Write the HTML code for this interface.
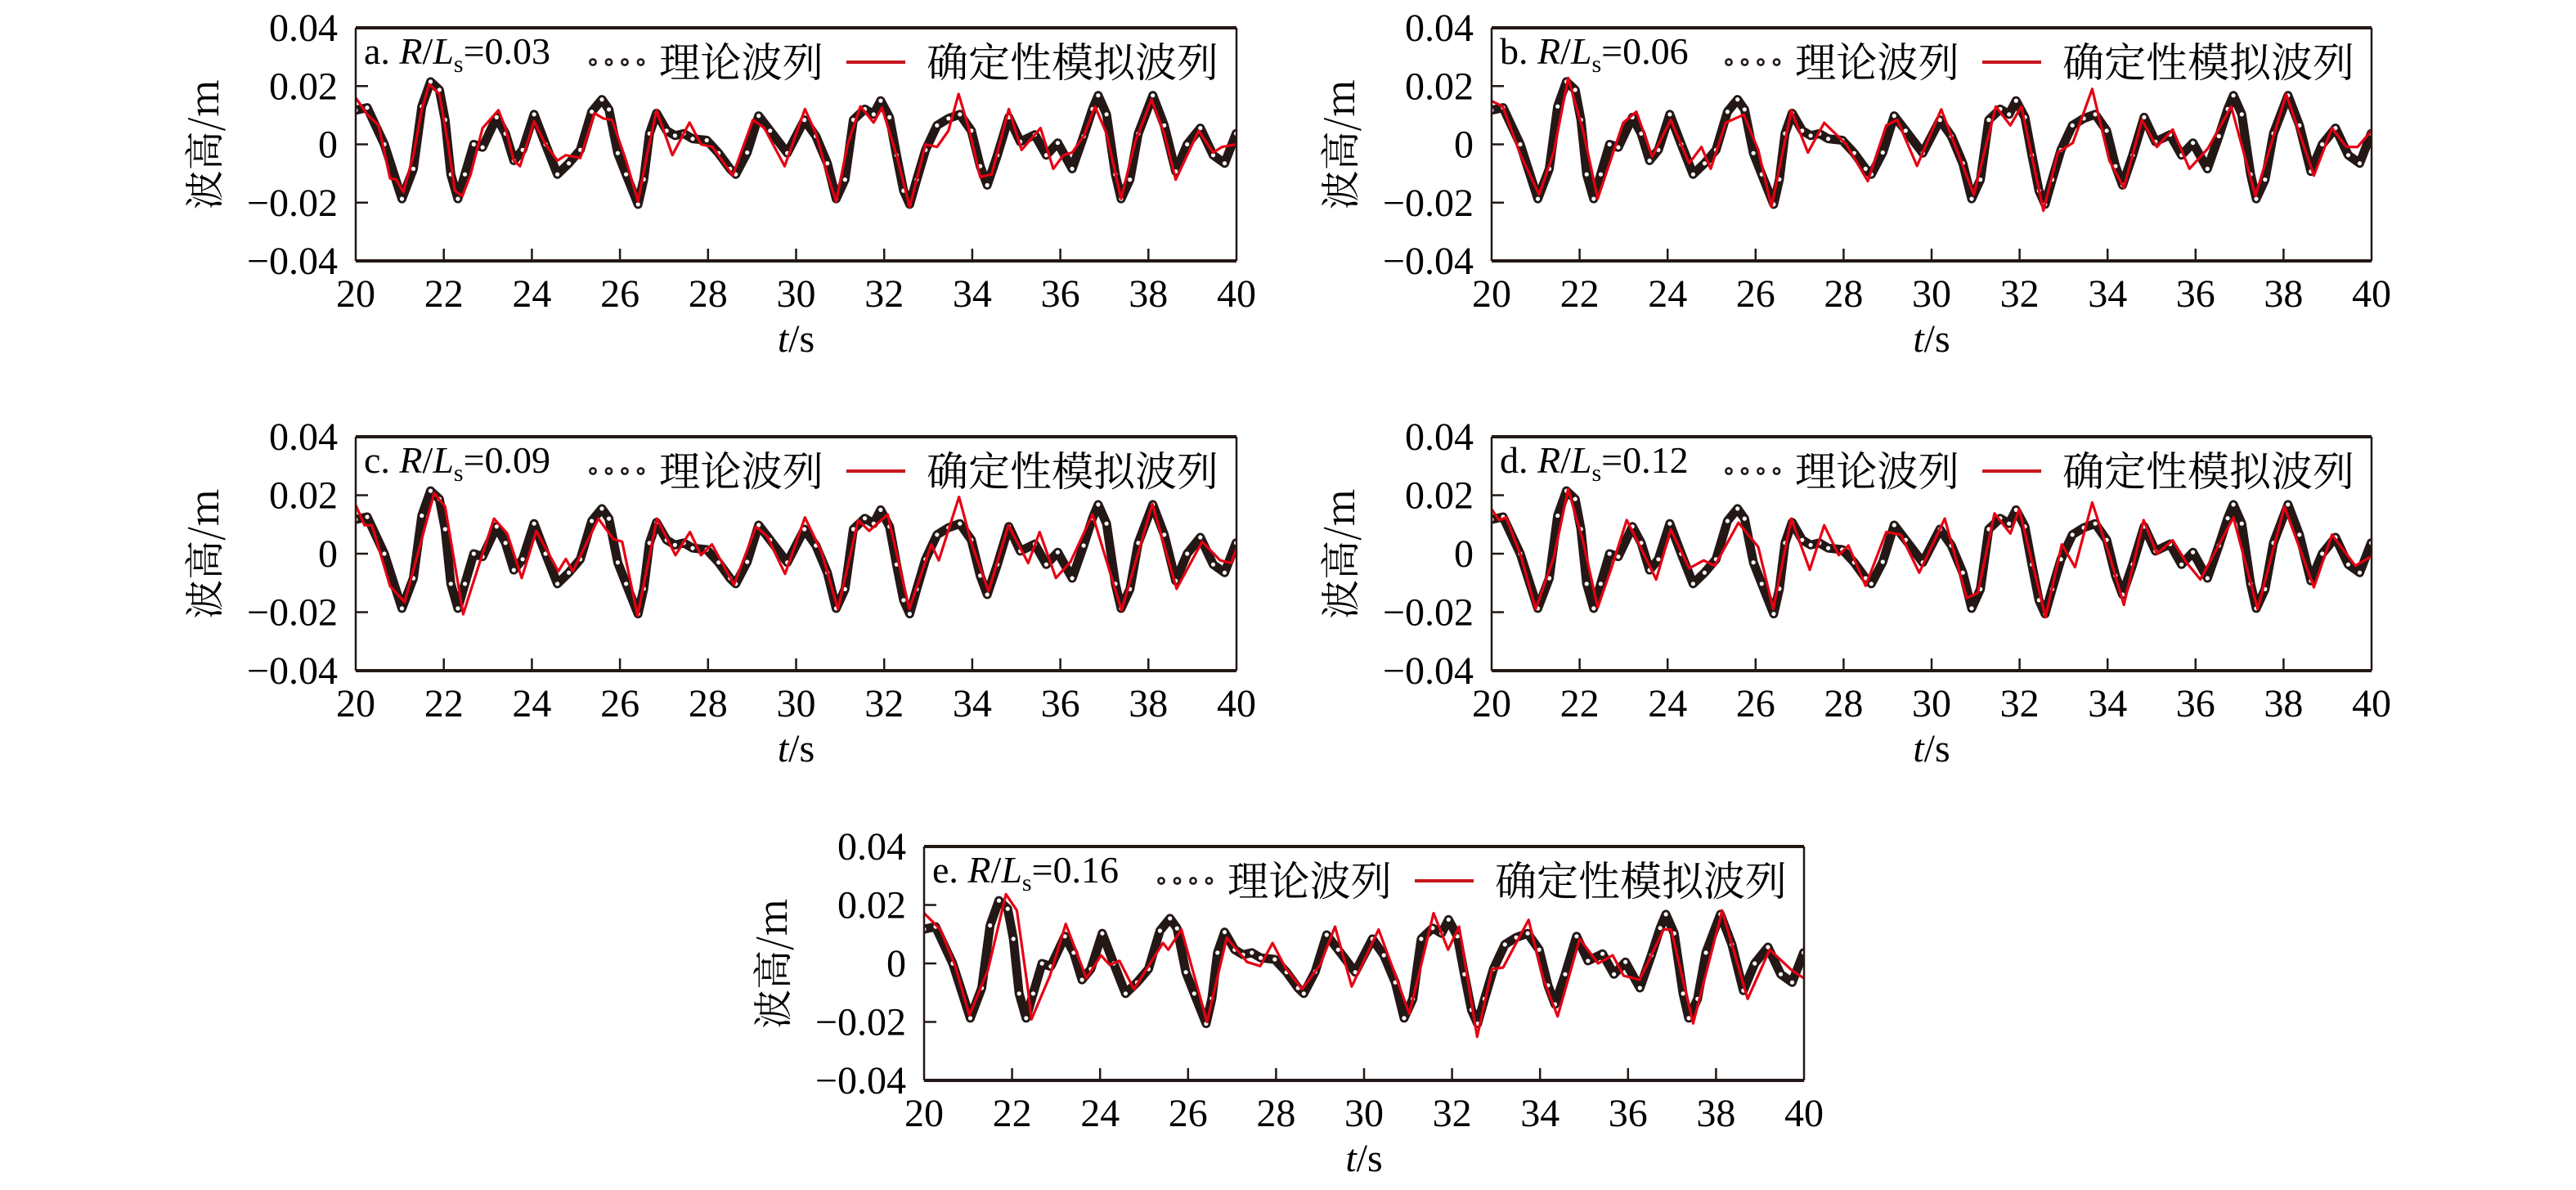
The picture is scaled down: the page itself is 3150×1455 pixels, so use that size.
<!DOCTYPE html>
<html><head><meta charset="utf-8"><style>
html,body{margin:0;padding:0;background:#fff;width:3150px;height:1455px;overflow:hidden}
svg text{font-family:"Liberation Serif","Noto Serif CJK SC",serif;fill:#000}
.cjk{font-family:"Noto Serif CJK SC","Liberation Serif",serif}
</style></head><body>
<svg id="fig" xmlns="http://www.w3.org/2000/svg" width="3150" height="1455" viewBox="0 0 3150 1455"></svg>
<script>
// ---- data ----
const xTicks = [20,22,24,26,28,30,32,34,36,38,40];
const yTicks = [0.04,0.02,0,-0.02,-0.04];
const yTickLabels = ["0.04","0.02","0","\u22120.02","\u22120.04"];
const panelLetters = ["a","b","c","d","e"];
const panelRatios = ["0.03","0.06","0.09","0.12","0.16"];

const theoryT = [20.0,20.26,20.65,21.05,21.31,21.5,21.7,21.9,22.03,22.16,22.32,22.48,22.68,22.88,23.2,23.4,23.59,23.79,24.05,24.31,24.58,24.84,25.1,25.36,25.59,25.75,25.95,26.14,26.41,26.54,26.67,26.83,27.06,27.25,27.45,27.65,27.97,28.24,28.5,28.63,28.89,29.15,29.41,29.8,30.19,30.45,30.71,30.91,31.11,31.3,31.56,31.76,31.92,32.12,32.28,32.44,32.58,32.74,32.94,33.2,33.46,33.72,33.98,34.18,34.34,34.57,34.83,35.09,35.42,35.68,35.94,36.27,36.53,36.73,36.86,37.05,37.25,37.38,37.58,37.77,38.1,38.36,38.62,38.88,39.18,39.47,39.73,39.99];
const theoryV = [0.0117,0.0126,0,-0.0187,-0.0084,0.013,0.0215,0.0187,0.0084,-0.0103,-0.0187,-0.0103,0,-0.001,0.0093,0.0037,-0.0056,-0.0019,0.0103,0,-0.0103,-0.0065,-0.0019,0.0112,0.0154,0.012,-0.003,-0.0103,-0.0206,-0.012,0.0037,0.0107,0.0047,0.003,0.0037,0.0019,0.0014,-0.003,-0.0084,-0.0103,-0.0028,0.0098,0.0047,-0.003,0.0084,0.0028,-0.0065,-0.0187,-0.0121,0.0084,0.0121,0.0103,0.015,0.0093,-0.0037,-0.0159,-0.0206,-0.0121,-0.0019,0.0065,0.0089,0.0103,0.0047,-0.0075,-0.014,-0.0037,0.0093,0.0009,0.0033,-0.0037,0.0005,-0.0084,0.0028,0.0121,0.0168,0.0103,-0.0103,-0.0187,-0.0121,0.0037,0.0168,0.0065,-0.0093,0,0.0056,-0.0037,-0.0065,0.0037];

const simAT = [20.0,20.26,20.52,20.78,20.92,21.08,21.31,21.5,21.67,21.9,22.09,22.25,22.42,22.61,22.88,23.24,23.4,23.59,23.73,24.05,24.31,24.58,24.77,25.1,25.42,25.62,25.82,26.14,26.41,26.6,26.83,27.19,27.58,27.84,28.1,28.56,29.02,29.28,29.74,30.2,30.45,30.71,30.91,31.17,31.46,31.76,31.95,32.28,32.58,32.94,33.2,33.46,33.69,33.92,34.18,34.44,34.83,35.12,35.55,35.84,36.07,36.27,36.53,36.79,37.05,37.38,37.7,38.07,38.36,38.62,39.14,39.47,39.67,39.99];
const simAV = [0.016,0.0103,0.0065,-0.0117,-0.0121,-0.0164,-0.0037,0.0121,0.0206,0.0173,0.0009,-0.0159,-0.0178,-0.0103,0.0056,0.0117,0.0056,-0.0056,-0.0075,0.0079,0,-0.0056,-0.0037,-0.0047,0.0107,0.0089,0.0084,-0.0056,-0.0196,-0.0047,0.0117,-0.0037,0.0075,0,-0.0009,-0.0107,0.0084,0.0056,-0.0075,0.0121,0.0037,-0.0103,-0.0196,0,0.013,0.0075,0.0126,-0.0037,-0.0215,0,-0.0009,0.0047,0.0173,0.0056,-0.0112,-0.0103,0.0121,-0.0019,0.0056,-0.0084,-0.0037,-0.0028,0.0028,0.013,0.0037,-0.0187,0.0009,0.0154,0.0037,-0.0121,0.0047,-0.0028,-0.0009,0];

const simBT = [20.0,20.25,20.66,21.08,21.41,21.74,22.08,22.41,22.99,23.29,23.65,24.07,24.49,24.77,24.98,25.32,25.73,26.06,26.36,26.81,27.19,27.56,28.06,28.55,28.97,29.22,29.67,30.22,30.96,31.46,31.79,32.04,32.54,32.87,33.21,33.65,34.04,34.37,34.78,35.12,35.48,35.86,36.28,36.81,37.36,38.06,38.69,39.1,39.43,39.68,40.0];
const simBV = [0.0149,0.013,-0.0037,-0.0172,-0.0028,0.0228,0.0047,-0.0186,0.0074,0.0112,-0.0042,0.0084,-0.0065,-0.0009,-0.0084,0.0074,0.0102,-0.0019,-0.0214,0.0116,-0.0028,0.0074,0,-0.0126,0.0065,0.0084,-0.0074,0.012,-0.0172,0.013,0.0065,0.013,-0.0228,-0.0028,0.0005,0.019,-0.0056,-0.0149,0.0084,-0.0009,0.0051,-0.0084,-0.0014,0.013,-0.0177,0.0172,-0.0107,0.0056,-0.0009,-0.0009,0.0047];

const simCT = [20.0,20.2,20.37,20.78,21.11,21.78,22.03,22.44,22.77,23.14,23.44,23.77,24.1,24.6,24.77,24.93,25.51,25.85,26.05,26.4,26.84,27.26,27.59,27.84,28.09,28.59,29.09,29.34,29.75,30.2,30.58,30.95,31.41,31.66,32.08,32.57,33.07,33.24,33.7,33.99,34.37,34.82,35.27,35.53,35.9,36.23,36.73,37.39,38.09,38.64,39.22,39.63,39.88,40.0];
const simCV = [0.0166,0.0097,0.0097,-0.0111,-0.0166,0.0207,0.0161,-0.0207,-0.0051,0.012,0.0069,-0.0083,0.0078,-0.006,-0.0018,-0.006,0.012,0.005,0.0041,-0.0212,0.012,-0.0005,0.0074,-0.0005,0.0032,-0.0106,0.0092,0.006,-0.0069,0.0124,0.0005,-0.0189,0.0115,0.0078,0.0134,-0.0189,0.0032,-0.0023,0.0194,0.0032,-0.0129,0.0097,-0.0032,0.0074,-0.0083,-0.0028,0.0134,-0.0194,0.017,-0.012,0.0041,-0.0023,-0.0032,0.0018];

const simDT = [20.0,20.17,20.33,20.66,21.0,21.41,21.74,22.08,22.41,22.74,23.07,23.41,23.74,24.07,24.49,24.82,25.07,25.61,26.06,26.4,26.81,27.23,27.56,27.89,28.11,28.5,28.97,29.3,29.72,30.3,30.8,31.05,31.43,31.79,31.99,32.59,32.96,33.26,33.65,34.04,34.37,34.82,35.12,35.48,35.78,36.11,36.86,37.41,38.02,38.69,39.1,39.63,40.0];
const simDV = [0.0152,0.0115,0.0124,-0.0005,-0.0189,-0.0014,0.0221,0.0041,-0.0184,-0.0041,0.0115,0.0014,-0.0088,0.0083,-0.005,-0.0023,-0.0041,0.0106,0.0023,-0.0189,0.012,-0.0055,0.0097,-0.0005,0.0028,-0.011,0.0074,0.0065,-0.0065,0.012,-0.0152,-0.0134,0.0138,0.0069,0.0152,-0.0217,0.0032,-0.0046,0.0175,-0.0005,-0.0175,0.0115,0,0.0046,-0.0028,-0.0088,0.0124,-0.0189,0.0161,-0.0115,0.0065,-0.0041,-0.0009];

const simET = [20.0,20.37,20.7,21.03,21.45,21.86,22.11,22.36,22.44,22.86,23.22,23.69,24.02,24.22,24.44,24.77,25.43,25.55,25.85,26.43,26.88,27.34,27.64,27.92,28.21,28.59,29.0,29.34,29.72,30.33,31.03,31.58,31.91,32.16,32.57,32.91,33.16,33.74,34.07,34.4,34.9,35.32,35.65,35.9,36.26,36.81,36.98,37.48,38.14,38.72,39.22,39.72,40.0];
const simEV = [0.0172,0.0116,-0.0005,-0.0177,-0.0023,0.0237,0.0181,-0.0088,-0.0191,-0.0042,0.0135,-0.0051,0.0028,-0.0005,0.0009,-0.0088,0.007,0.0047,0.0116,-0.02,0.0088,0.0005,-0.0009,0.007,-0.0014,-0.0088,-0.0005,0.0126,-0.0079,0.0116,-0.0172,0.0172,0.0047,0.0126,-0.0251,-0.0019,-0.0014,0.0149,-0.0051,-0.0181,0.0084,0,0.0028,-0.0042,-0.0056,0.0116,0.0116,-0.0205,0.0181,-0.0121,0.0047,-0.0023,-0.0051];

const simTimes = [simAT,simBT,simCT,simDT,simET];
const simValues = [simAV,simBV,simCV,simDV,simEV];

// ---- layout (not data) ----
const panelBoxes = [[435,34,1077,285],[1824,34,1076,285],[435,534,1077,286],[1824,534,1076,286],[1130,1035,1076,286]];
const NS = "http://www.w3.org/2000/svg";
const svg = document.getElementById("fig");
function mk(tag, attrs, parent){
  const e = document.createElementNS(NS, tag);
  for (const k in attrs) e.setAttribute(k, attrs[k]);
  (parent||svg).appendChild(e);
  return e;
}
const INK = "#231815";
const RED = "#e60012";

panelBoxes.forEach((b, i) => {
  const [L, T, W, H] = b;
  const xs = t => L + (t - 20) / 20 * W;
  const ys = v => T + H / 2 - v / 0.04 * (H / 2);
  const g = mk("g", {});
  
  

  const cp = mk("clipPath", {id: "clip" + i}, g);
  mk("rect", {x: L, y: T, width: W, height: H}, cp);

  const tg = mk("g", {"clip-path": "url(#clip" + i + ")"}, g);
  
  
  const tpts = theoryT.map((t, k) => xs(t).toFixed(1) + "," + ys(theoryV[k]).toFixed(1)).join(" ");
  const band = mk("polyline", {points: tpts, fill: "none", stroke: INK, "stroke-width": 11, "stroke-linejoin": "round", "stroke-linecap": "round"}, tg);
  
  
  theoryT.forEach((t, k) => {
    const c = mk("circle", {cx: xs(t).toFixed(1), cy: ys(theoryV[k]).toFixed(1), r: 2.6, fill: "#fff"}, tg);
    
    
  });

  const st = simTimes[i], sv = simValues[i];
  const spts = st.map((t, k) => xs(t).toFixed(1) + "," + ys(sv[k]).toFixed(1)).join(" ");
  const sl = mk("polyline", {points: spts, fill: "none", stroke: RED, "stroke-width": 3.2, "stroke-linejoin": "round", "clip-path": "url(#clip" + i + ")"}, g);
  
  

  const fr = mk("g", {}, g);
  
  
  mk("line", {x1: L, y1: T, x2: L + W, y2: T, stroke: INK, "stroke-width": 4}, fr);
  mk("line", {x1: L, y1: T + H, x2: L + W, y2: T + H, stroke: INK, "stroke-width": 4}, fr);
  mk("line", {x1: L, y1: T, x2: L, y2: T + H, stroke: INK, "stroke-width": 2.5}, fr);
  mk("line", {x1: L + W, y1: T, x2: L + W, y2: T + H, stroke: INK, "stroke-width": 2.5}, fr);

  xTicks.forEach(t => {
    const x = xs(t);
    if (t > 20 && t < 40) {
      const tk = mk("line", {x1: x, y1: T + H, x2: x, y2: T + H - 15, stroke: INK, "stroke-width": 2.5}, g);
      
      
    }
    const lb = mk("text", {x: x, y: T + H + 56, "font-size": 48, "text-anchor": "middle"}, g);
    lb.textContent = String(t);
    
    
  });
  yTicks.forEach((v, k) => {
    const y = ys(v);
    if (Math.abs(v) < 0.03) {
      const tk = mk("line", {x1: L, y1: y, x2: L + 15, y2: y, stroke: INK, "stroke-width": 2.5}, g);
      
      
    }
    const lb = mk("text", {x: L - 22, y: y + 16, "font-size": 48, "text-anchor": "end"}, g);
    lb.textContent = yTickLabels[k];
    
    
  });

  const xt = mk("text", {x: L + W / 2, y: T + H + 111, "font-size": 48, "text-anchor": "middle"}, g);
  xt.innerHTML = '<tspan font-style="italic">t</tspan>/s';
  
  
  const yt = mk("text", {x: 0, y: 0, "font-size": 48, "text-anchor": "middle", "class": "cjk", transform: "translate(" + (L - 168) + "," + (T + H / 2) + ") rotate(-90)"}, g);
  yt.textContent = "波高/m";
  
  

  const pl = mk("text", {x: L + 10, y: T + 44, "font-size": 46}, g);
  pl.innerHTML = panelLetters[i] + '. <tspan font-style="italic">R</tspan>/<tspan font-style="italic">L</tspan><tspan font-size="30" dy="10">s</tspan><tspan dy="-10">=' + panelRatios[i] + '</tspan>';
  
  

  const lg = mk("g", {}, g);
  
  
  const lt = mk("g", {}, lg);
  
  
  for (let d = 0; d < 4; d++) {
    mk("circle", {cx: L + 290 + d * 19.5, cy: T + 42, r: 3.6, fill: "#fff", stroke: INK, "stroke-width": 2.6}, lt);
  }
  const t1 = mk("text", {x: L + 371, y: T + 60, "font-size": 50, "class": "cjk", textLength: 201, lengthAdjust: "spacingAndGlyphs"}, lt);
  t1.textContent = "理论波列";
  const ls = mk("g", {}, lg);
  
  
  mk("line", {x1: L + 600, y1: T + 42, x2: L + 672, y2: T + 42, stroke: "#c8161d", "stroke-width": 4}, ls);
  const t2 = mk("text", {x: L + 698, y: T + 60, "font-size": 50, "class": "cjk", textLength: 357, lengthAdjust: "spacingAndGlyphs"}, ls);
  t2.textContent = "确定性模拟波列";
});
</script>
</body></html>
